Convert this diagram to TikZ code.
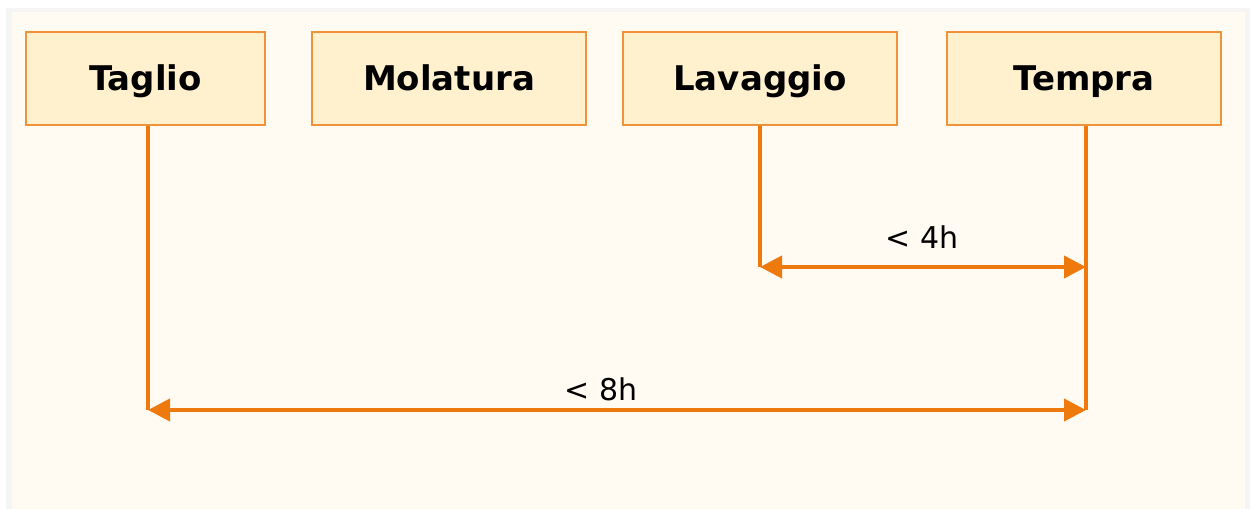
\documentclass[tikz,border=0pt]{standalone}
\usepackage{fontspec}
\setmainfont{DejaVu Sans}
\usetikzlibrary{arrows.meta}

\definecolor{bgcream}{HTML}{FFFBF3}
\definecolor{bggray}{HTML}{F5F5F5}
\definecolor{boxfill}{HTML}{FFF0CE}
\definecolor{boxline}{HTML}{F0923A}
\definecolor{arrorange}{HTML}{EE7A0E}

\begin{document}
\begin{tikzpicture}[x=0.5pt, y=-0.5pt, line cap=butt, line join=miter,
  phase/.style={draw=boxline, fill=boxfill, line width=1pt, minimum width=137pt,
    minimum height=46.5pt, inner sep=0pt, text height=14.4pt, text depth=2.8pt,
    font=\fontsize{17}{20}\selectfont\bfseries},
  conn/.style={draw=arrorange, line width=2pt},
  dim/.style={conn, {Triangle[length=11pt, width=11pt]}-{Triangle[length=11pt, width=11pt]}},
  limit/.style={font=\fontsize{15}{18}\selectfont}]

% Background
\useasboundingbox (0,0) rectangle (1255,509);
\fill[white] (0,0) rectangle (1255,509);
\fill[bggray] (6,8) rectangle (1250,509);
\fill[bgcream] (12,12) rectangle (1245,509);

% Process phases
\node[phase, minimum width=119.5pt] (taglio) at (145.5,78.5) {Taglio};
\node[phase] (molatura) at (449,78.5) {Molatura};
\node[phase] (lavaggio) at (760,78.5) {Lavaggio};
\node[phase] (tempra) at (1084,78.5) {Tempra};

% End points of the time limits
\coordinate (l4) at (760,267);
\coordinate (t4) at (1086,267);
\coordinate (g8) at (148,410);
\coordinate (t8) at (1086,410);

% Vertical leaders
\draw[conn] (taglio.south -| g8) -- (g8);
\draw[conn] (lavaggio.south) -- (l4);
\draw[conn] (tempra.south -| t8) -- (t8);

% Time limits
\draw[dim] (l4) -- (t4);
\draw[dim] (g8) -- (t8);

% Labels
\node[limit] (lim4) at (922,237) {< 4h};
\node[limit] (lim8) at (601,389) {< 8h};

\end{tikzpicture}
\end{document}
